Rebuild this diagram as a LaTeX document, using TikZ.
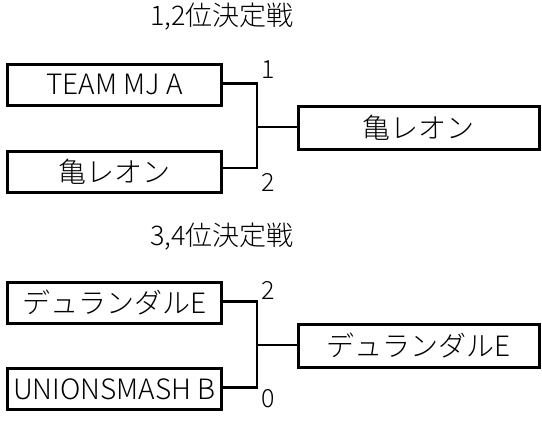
\documentclass[tikz,border=0pt]{standalone}
\usepackage{fontspec}
\IfFontExistsTF{Noto Sans CJK JP Light}{\setmainfont{Noto Sans CJK JP Light}}{\setmainfont{Noto Sans CJK JP}}
\begin{document}
\begin{tikzpicture}[x=1pt,y=-1pt,
  team/.style={draw,line width=2.8pt,minimum height=41pt,inner sep=0pt,font=\fontsize{28}{30}\selectfont,anchor=north west},
  win/.style={draw,line width=2.8pt,minimum height=43pt,inner sep=0pt,font=\fontsize{28}{30}\selectfont,anchor=north west},
  conn/.style={line width=2.8pt},
  score/.style={font=\fontsize{25}{28}\selectfont},
  title/.style={font=\fontsize{27}{30}\selectfont}]
\useasboundingbox (0,0) rectangle (542,427);
\node[title] (t1) at (222,17) {1,2位決定戦};
\node[team,minimum width=214pt] (a) at (6,63) {TEAM MJ A};
\node[team,minimum width=214pt] (b) at (6,150) {亀レオン};
\node[win,minimum width=241pt] (w1) at (297,105) {亀レオン};
\coordinate (j1a) at (257,83.5);
\coordinate (j1b) at (257,168);
\coordinate (j1m) at (257,127);
\draw[conn] (a.east |- j1a) -- (j1a) -- (j1b) -- (b.east |- j1b);
\draw[conn] (j1m) -- (w1.west |- j1m);
\node[score] (s1) at (268,70) {1};
\node[score] (s2) at (268,182) {2};

\node[title] (t2) at (222,237) {3,4位決定戦};
\node[team,minimum width=214pt] (c) at (6,281) {デュランダルE};
\node[team,minimum width=214pt] (d) at (6,367) {UNIONSMASH B};
\node[win,minimum width=241pt] (w2) at (297,323) {デュランダルE};
\coordinate (j2a) at (257,301.5);
\coordinate (j2b) at (257,387.5);
\coordinate (j2m) at (257,345);
\draw[conn] (c.east |- j2a) -- (j2a) -- (j2b) -- (d.east |- j2b);
\draw[conn] (j2m) -- (w2.west |- j2m);
\node[score] (s3) at (268,290) {2};
\node[score] (s4) at (268,399) {0};
\end{tikzpicture}
\end{document}
